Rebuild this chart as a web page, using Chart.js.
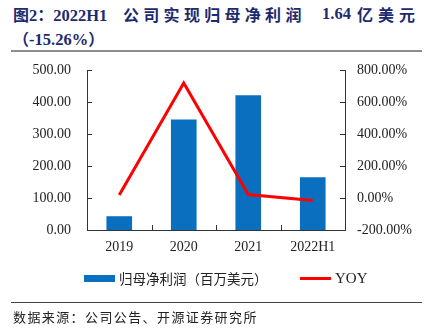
<!DOCTYPE html>
<html>
<head>
<meta charset="utf-8">
<script src="https://cdn.jsdelivr.net/npm/chart.js@4.4.0/dist/chart.umd.min.js"></script>
<style>
  body { margin: 0; background: #fff; }
  #wrap { position: relative; width: 426px; height: 333px; overflow: hidden; }
  #chart { position: absolute; left: 0; top: 0; }
  .title { position: absolute; color: #1d2a6d; font-weight: bold;
           font-family: "Liberation Serif", "Noto Sans CJK SC", serif; font-size: 16.5px;
           white-space: nowrap; line-height: 20px; }
  .cn { font-family: "Noto Sans CJK SC", sans-serif; font-size: 16px; }
  .rule { position: absolute; left: 11px; width: 411px; }
  .legend { position: absolute; top: 269px; font-family: "Noto Sans CJK SC", sans-serif;
            font-size: 13.5px; color: #222; white-space: nowrap; line-height: 18px; }
  .source { position: absolute; left: 13px; top: 307px; font-family: "Noto Sans CJK SC", sans-serif;
            font-size: 13px; letter-spacing: 1.4px; color: #222; white-space: nowrap; }
</style>
</head>
<body>
<div id="wrap">
  <div class="title" style="top:4px; left:13px"><span class="cn">图</span>2<span class="cn">：</span>2022H1</div>
  <div class="title cn" style="top:4px; left:123px; letter-spacing:4.3px">公司实现归母净利润</div>
  <div class="title" style="top:4px; left:322px">1.64</div>
  <div class="title cn" style="top:4px; left:357px; letter-spacing:5px">亿美元</div>
  <div class="title" style="top:28px; left:13px"><span class="cn">（</span>-15.26%<span class="cn">）</span></div>
  <div class="rule" style="top:50px; height:2px; background:#8c8c8c"></div>
  <canvas id="chart" width="426" height="333"></canvas>
  <div class="legend" id="legend"></div>
  <div class="rule" style="top:302px; height:1px; background:#444"></div>
  <div class="source">数据来源：公司公告、开源证券研究所</div>
</div>
<script>
const categories = ["2019", "2020", "2021", "2022H1"];
const profitLabel = "归母净利润（百万美元）";
const profitValues = [42, 344, 420, 164];
const yoyLabel = "YOY";
const yoyValues = [19, 719, 22, -15.26];
const leftTicks = [0, 100, 200, 300, 400, 500];
const rightTicks = [-200, 0, 200, 400, 600, 800];

const BLUE = "#0a6fbf";
const RED = "#ff0000";
const AXIS = "#333333";
const tickFont = { family: "Liberation Serif", size: 14 };

// short ticks pointing into the plot, like the original
const innerTicks = {
  id: "innerTicks",
  afterDraw(chart) {
    const ctx = chart.ctx;
    const area = chart.chartArea;
    const yL = chart.scales.y;
    const yR = chart.scales.y1;
    const x = chart.scales.x;
    ctx.save();
    ctx.strokeStyle = AXIS;
    ctx.lineWidth = 1;
    ctx.beginPath();
    yL.ticks.forEach(function (t) {
      const py = Math.round(yL.getPixelForValue(t.value)) + 0.5;
      ctx.moveTo(area.left, py);
      ctx.lineTo(area.left + 5, py);
    });
    yR.ticks.forEach(function (t) {
      const py = Math.round(yR.getPixelForValue(t.value)) + 0.5;
      ctx.moveTo(area.right, py);
      ctx.lineTo(area.right - 5, py);
    });
    for (let i = 0; i < categories.length - 1; i++) {
      const px = Math.round((x.getPixelForValue(i) + x.getPixelForValue(i + 1)) / 2) + 0.5;
      ctx.moveTo(px, area.bottom);
      ctx.lineTo(px, area.bottom - 5);
    }
    ctx.stroke();
    ctx.restore();
  },
};

const chart = new Chart(document.getElementById("chart"), {
  data: {
    labels: categories,
    datasets: [
      {
        type: "line",
        label: yoyLabel,
        data: yoyValues,
        yAxisID: "y1",
        borderColor: RED,
        backgroundColor: RED,
        borderWidth: 3,
        pointRadius: 0,
        borderJoinStyle: "miter",
        tension: 0,
        order: 0,
      },
      {
        type: "bar",
        label: profitLabel,
        data: profitValues,
        yAxisID: "y",
        backgroundColor: BLUE,
        barThickness: 25,
        order: 1,
      },
    ],
  },
  options: {
    responsive: false,
    animation: false,
    layout: { padding: { top: 70, left: 0, right: 0, bottom: 0 } },
    plugins: { legend: { display: false }, tooltip: { enabled: false } },
    scales: {
      x: {
        grid: { display: false, drawTicks: false },
        border: { display: true, color: AXIS },
        ticks: { font: tickFont, color: "#222", padding: 9 },
        afterFit: function (s) { s.height = 103; },
      },
      y: {
        position: "left",
        min: 0,
        max: 500,
        afterBuildTicks: function (s) { s.ticks = leftTicks.map(function (v) { return { value: v }; }); },
        grid: { display: false, drawTicks: false },
        border: { display: true, color: AXIS },
        ticks: { font: tickFont, color: "#222", padding: 16, callback: function (v) { return v.toFixed(2); } },
        afterFit: function (s) { s.width = 87; },
      },
      y1: {
        position: "right",
        min: -200,
        max: 800,
        afterBuildTicks: function (s) { s.ticks = rightTicks.map(function (v) { return { value: v }; }); },
        grid: { display: false, drawTicks: false },
        border: { display: true, color: AXIS },
        ticks: { font: tickFont, color: "#222", padding: 12, callback: function (v) { return v.toFixed(2) + "%"; } },
        afterFit: function (s) { s.width = 81; },
      },
    },
  },
  plugins: [innerTicks],
});

// legend built from the datasets
const legend = document.getElementById("legend");
legend.innerHTML =
  '<span style="position:absolute;left:84px;top:6px;width:31px;height:7px;background:' + chart.data.datasets[1].backgroundColor + '"></span>' +
  '<span style="position:absolute;left:119px;top:0">' + chart.data.datasets[1].label + '</span>' +
  '<span style="position:absolute;left:300px;top:8px;width:31px;height:3px;background:' + chart.data.datasets[0].borderColor + '"></span>' +
  '<span style="position:absolute;left:335px;top:0;font-family:Liberation Serif;font-size:15px">' + chart.data.datasets[0].label + '</span>';
</script>
</body>
</html>
